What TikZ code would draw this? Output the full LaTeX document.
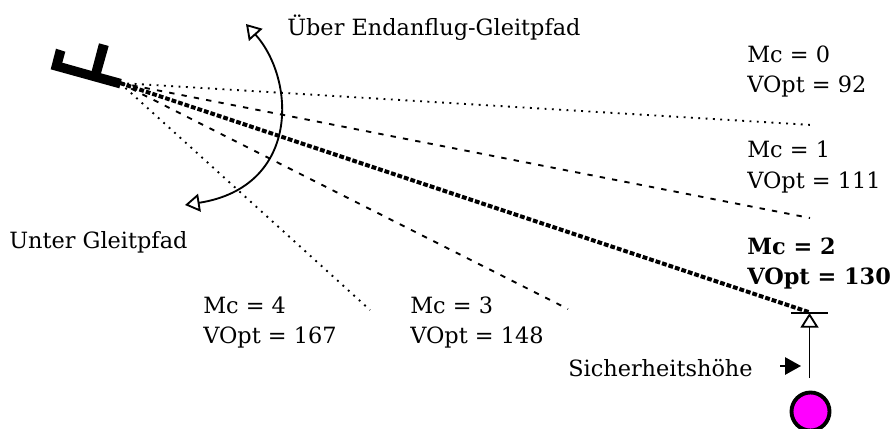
\documentclass[tikz,border=0pt]{standalone}
\usepackage{fontspec}
\setmainfont{DejaVu Serif}
\usetikzlibrary{arrows.meta}
\definecolor{mag}{RGB}{255,0,255}
\tikzset{
 x=0.75pt,y=-0.75pt,
 lbl/.style={inner sep=0pt,anchor=west,align=left,font=\fontsize{16.8}{23.2}\selectfont},
 hollow/.tip={Triangle[open,length=11pt,width=13.5pt,line width=1.4pt]},
 openarrow/.style={draw=black,line width=1.4pt},
 dotline/.style={line width=1.4pt,dash pattern=on 1.4pt off 4.1pt},
 dashline/.style={line width=1.4pt,dash pattern=on 4pt off 5.4pt},
 thickdash/.style={line width=3pt,dash pattern=on 3.6pt off 1.5pt}
}
\begin{document}
\begin{tikzpicture}
\useasboundingbox (0,0) rectangle (891,428);
\fill[black] (50.7,69.3)--(56,48.7)--(65.3,51.7)--(62.3,62.7)--(91.7,71)--(99,43.3)--(108.7,46)--(101,73.3)--(121.7,79)--(119.3,88.3)--cycle;
\coordinate (nose) at (120,83);
\coordinate (e0) at (812,125);
\coordinate (e1) at (810,218);
\coordinate (e2) at (810,312.5);
\coordinate (e3) at (568,309);
\coordinate (e4) at (370,310);
\draw[dotline] (nose)--(e0);
\draw[dashline] (nose)--(e1);
\draw[thickdash] (nose)--(e2);
\draw[dashline] (nose)--(e3);
\draw[dotline] (nose)--(e4);
\coordinate (arcA) at (246,24);
\coordinate (arcB) at (185,205);
\draw[openarrow,{hollow}-{hollow}] (arcA) .. controls (296,80) and (300,187) .. (arcB);
\node[lbl] (over) at (287,28) {Über Endanflug-Gleitpfad};
\node[lbl] (under) at (9,242) {Unter Gleitpfad};
\node[lbl] (m0) at (747,71.5) {Mc = 0\\VOpt = 92};
\node[lbl] (m1) at (747,167) {Mc = 1\\VOpt = 111};
\node[lbl] (m2) at (747,263.5) {\bfseries Mc = 2\\\bfseries VOpt = 130};
\node[lbl] (m3) at (410,322.5) {Mc = 3\\VOpt = 148};
\node[lbl] (m4) at (203,322.5) {Mc = 4\\VOpt = 167};
\node[lbl] (safe) at (568,368) {Sicherheitshöhe};
\node[circle,draw=black,fill=mag,line width=2.9pt,minimum size=28.5pt,inner sep=0pt] (ac) at (810.5,411.5) {};
\coordinate (base) at (809.5,378);
\coordinate (tip) at (809.5,313);
\coordinate (hl) at (791,313);
\coordinate (hr) at (828,313);
\draw[line width=1.4pt] (hl)--(hr);
\draw[openarrow,-{hollow}] (base)--(tip);
\coordinate (sa) at (780,366);
\coordinate (sb) at (801,366);
\draw[line width=1.4pt,-{Triangle[length=12pt,width=13pt]}] (sa)--(sb);
\end{tikzpicture}
\end{document}
